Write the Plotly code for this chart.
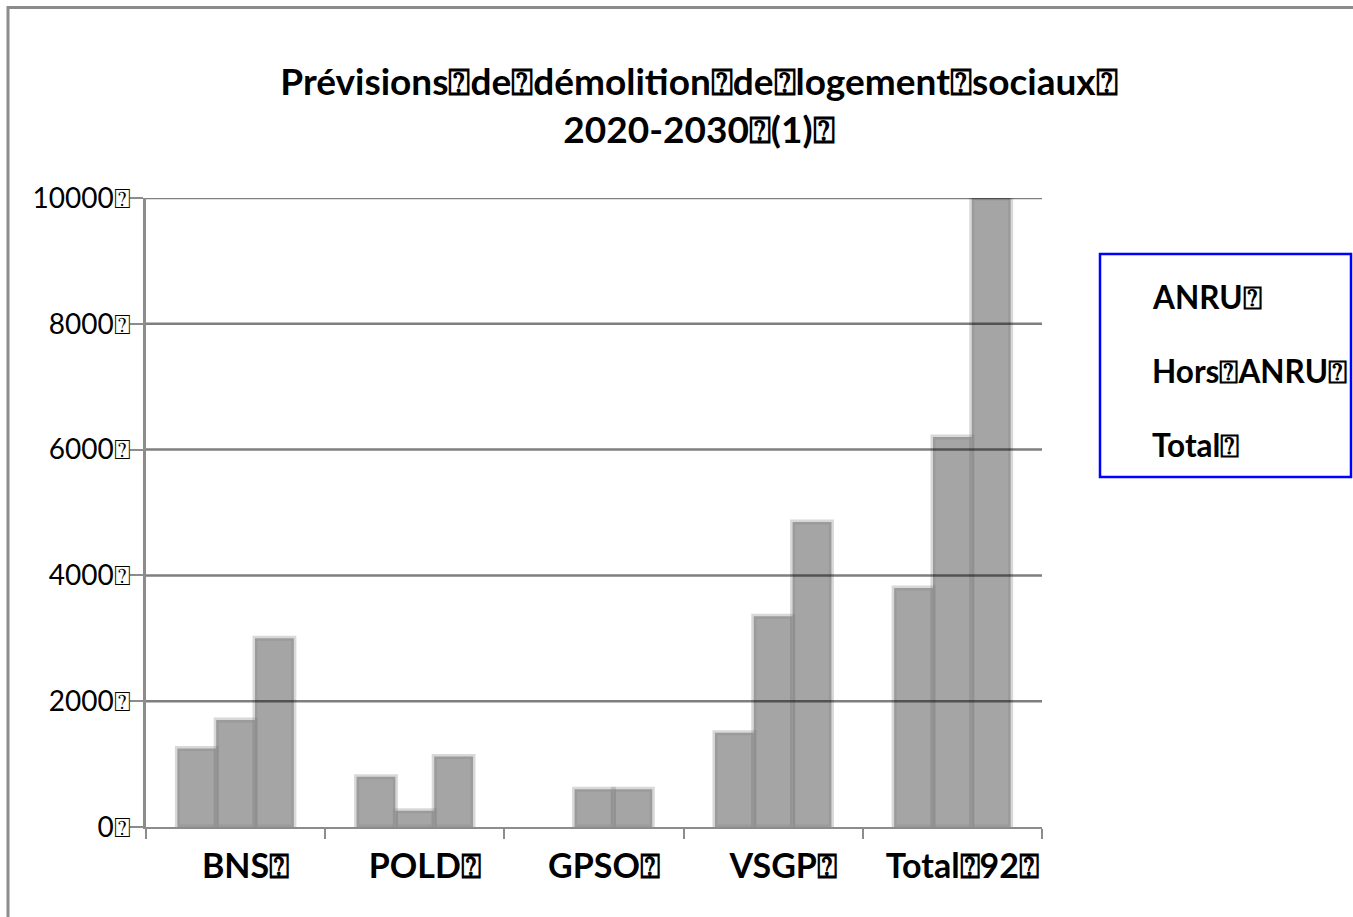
import plotly.graph_objects as go

# Placeholder glyph that the source document shows in place of spaces / trailing marks
BOX = "\u2370"

categories = ["BNS", "POLD", "GPSO", "VSGP", "Total 92"]
series_names = ["ANRU", "Hors ANRU", "Total"]
anru = [1250, 800, 0, 1500, 3800]
hors_anru = [1700, 260, 600, 3350, 6200]
total = [3000, 1120, 600, 4850, 10000]
y_ticks = [0, 2000, 4000, 6000, 8000, 10000]
title_lines = ["Prévisions de démolition de logement sociaux", "2020-2030 (1)"]


def boxed(s):
    return s.replace(" ", BOX) + BOX


cat_labels = [boxed(c) for c in categories]
values = [anru, hors_anru, total]

fig = go.Figure()
for name, vals in zip(series_names, values):
    fig.add_trace(go.Bar(
        name=name,
        x=cat_labels,
        y=vals,
        marker=dict(color="rgba(110,110,110,0.62)",
                    line=dict(color="rgba(135,135,135,0.32)",
                              width=[5 if v > 0 else 0 for v in vals])),
        showlegend=False,
    ))

W, H = 1353, 917
L, R, T, B = 146, 311, 198, 90
pw, ph = W - L - R, H - T - B


def px_x(p):
    return (p - L) / pw


def px_y(p):
    return (H - B - p) / ph


shapes = []
# horizontal grid lines drawn over the bars
for v in y_ticks[1:]:
    shapes.append(dict(type="line", xref="paper", yref="y", x0=0, x1=1, y0=v, y1=v,
                       line=dict(color="rgba(0,0,0,0.5)", width=2.5), layer="above"))
# outer frame
shapes.append(dict(type="rect", xref="paper", yref="paper",
                   x0=px_x(8), x1=px_x(1400), y0=px_y(7.5), y1=px_y(960),
                   line=dict(color="#8c8c8c", width=3), layer="below"))
# legend box
shapes.append(dict(type="rect", xref="paper", yref="paper",
                   x0=px_x(1100), x1=px_x(1351), y0=px_y(254), y1=px_y(477),
                   line=dict(color="#0000ff", width=2.5)))

annotations = []
for i, name in enumerate(series_names):
    annotations.append(dict(
        text=boxed(name), xref="paper", yref="paper",
        x=px_x(1150), y=px_y(297 + 74 * i), xanchor="left", yanchor="middle",
        showarrow=False, font=dict(family="Lato", size=31.5, color="black", weight="bold"),
    ))

fig.update_layout(
    width=W, height=H,
    margin=dict(l=L, r=R, t=T, b=B, pad=0),
    paper_bgcolor="white", plot_bgcolor="white",
    barmode="group", bargap=0.35, bargroupgap=0,
    title=dict(
        text="<br>".join(boxed(t) for t in title_lines),
        x=699 / W, xref="container", xanchor="center",
        y=1 - 95 / H, yref="container", yanchor="top",
        font=dict(family="Lato", size=37, color="black", weight="bold"),
    ),
    xaxis=dict(
        type="category", tickson="boundaries",
        showline=True, linecolor="#8c8c8c", linewidth=2,
        ticks="outside", ticklen=10, tickwidth=2, tickcolor="#8c8c8c",
        showgrid=False, ticklabelstandoff=8, ticklabelshift=10,
        tickfont=dict(family="Lato", size=34, color="black", weight="bold"),
    ),
    yaxis=dict(
        range=[0, 10000], tickvals=y_ticks,
        ticktext=[f"{v}{BOX}" for v in y_ticks],
        showline=True, linecolor="#8c8c8c", linewidth=2.5,
        ticks="outside", ticklen=13, tickwidth=2, tickcolor="#8c8c8c",
        showgrid=False, zeroline=False, ticklabelstandoff=-6,
        tickfont=dict(family="Lato", size=28, color="black"),
    ),
    shapes=shapes,
    annotations=annotations,
)

fig.write_html("out.html")
